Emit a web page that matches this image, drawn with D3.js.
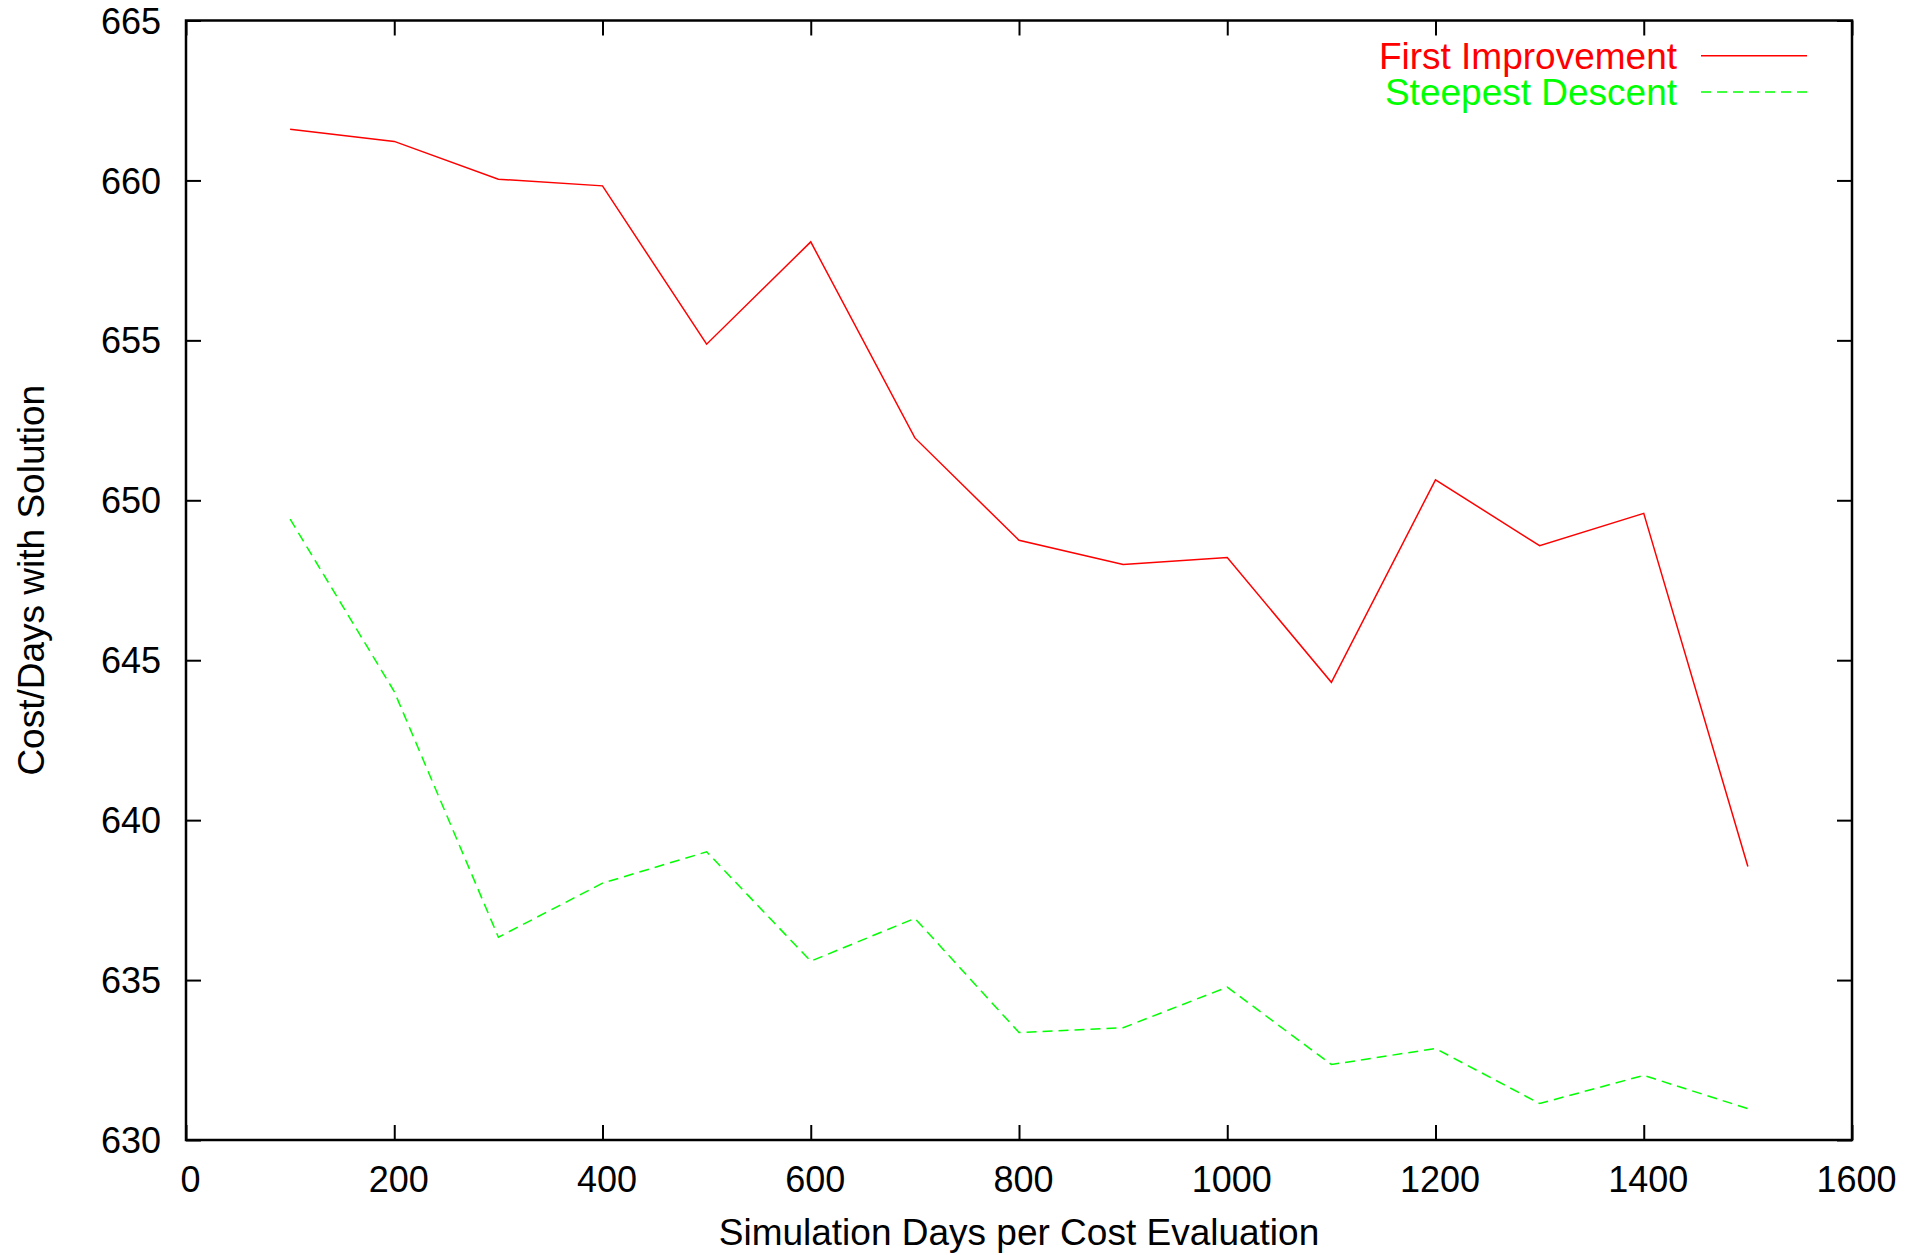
<!DOCTYPE html>
<html>
<head>
<meta charset="utf-8">
<script src="https://cdn.jsdelivr.net/npm/d3@7"></script>
<style>
  body { margin: 0; background: #fff; }
  text { font-family: "Liberation Sans", Arial, sans-serif; }
</style>
</head>
<body>
<div id="chart"></div>
<script>
// data
var days = [100, 200, 300, 400, 500, 600, 700, 800, 900, 1000, 1100, 1200, 1300, 1400, 1500];
var firstImprovement = [661.60, 661.22, 660.04, 659.83, 654.88, 658.08, 651.95, 648.75, 647.99, 648.21, 644.31, 650.64, 648.58, 649.59, 638.55];
var steepestDescent = [649.41, 644.02, 636.34, 638.03, 639.01, 635.59, 636.93, 633.36, 633.51, 634.78, 632.36, 632.86, 631.14, 632.02, 630.98];
var xTicks = [0, 200, 400, 600, 800, 1000, 1200, 1400, 1600];
var yTicks = [630, 635, 640, 645, 650, 655, 660, 665];

var svgWidth = 1925;
var svgHeight = 1255;

var margin = { top: 20.5, right: 73, bottom: 115, left: 186 };
var width = svgWidth - margin.left - margin.right;
var height = svgHeight - margin.top - margin.bottom;

var svg = d3.select("#chart")
  .append("svg")
  .attr("width", svgWidth)
  .attr("height", svgHeight);

var chartGroup = svg.append("g")
  .attr("transform", `translate(${margin.left}, ${margin.top})`);

// scales
var xScale = d3.scaleLinear().domain([0, 1600]).range([0, width]);
var yScale = d3.scaleLinear().domain([630, 665]).range([height, 0]);

var tickLen = 15;

// axes, ticks pointing inward (mirrored on top/right like gnuplot)
var bottomAxis = d3.axisBottom(xScale).tickValues(xTicks).tickFormat(d3.format("d"))
  .tickSizeInner(-tickLen).tickSizeOuter(0).tickPadding(26);
var topAxis = d3.axisTop(xScale).tickValues(xTicks).tickSizeInner(-tickLen).tickSizeOuter(0).tickFormat("");
var leftAxis = d3.axisLeft(yScale).tickValues(yTicks).tickFormat(d3.format("d"))
  .tickSizeInner(-tickLen).tickSizeOuter(0).tickPadding(25);
var rightAxis = d3.axisRight(yScale).tickValues(yTicks).tickSizeInner(-tickLen).tickSizeOuter(0).tickFormat("");

function styleAxis(g) {
  g.select(".domain").remove();
  g.selectAll(".tick line").attr("stroke", "#000").attr("stroke-width", 2);
  g.selectAll(".tick text").attr("fill", "#000").style("font-size", "36px");
}

chartGroup.append("g")
  .attr("transform", `translate(0, ${height})`)
  .call(bottomAxis)
  .call(styleAxis)
  .selectAll(".tick text").attr("dx", 4).attr("dy", "0.71em");

chartGroup.append("g").call(topAxis).call(styleAxis);

chartGroup.append("g")
  .call(leftAxis)
  .call(styleAxis)
  .selectAll(".tick text").attr("dy", "0.35em");

chartGroup.append("g")
  .attr("transform", `translate(${width}, 0)`)
  .call(rightAxis)
  .call(styleAxis);

// lines
var line = d3.line()
  .x(function (d, i) { return xScale(days[i]); })
  .y(function (d) { return yScale(d); });

chartGroup.append("path")
  .datum(firstImprovement)
  .attr("fill", "none")
  .attr("stroke", "#ff0000")
  .attr("stroke-width", 1.5)
  .attr("d", line);

chartGroup.append("path")
  .datum(steepestDescent)
  .attr("fill", "none")
  .attr("stroke", "#00ff00")
  .attr("stroke-width", 1.5)
  .attr("stroke-dasharray", "10,6")
  .attr("d", line);

// frame
chartGroup.append("rect")
  .attr("x", 0)
  .attr("y", 0)
  .attr("width", width)
  .attr("height", height)
  .attr("fill", "none")
  .attr("stroke", "#000")
  .attr("stroke-width", 2.5);

// legend
var legend = [
  { name: "First Improvement", color: "#ff0000", dash: null, y: 55.7 },
  { name: "Steepest Descent", color: "#00ff00", dash: "10,6", y: 92 }
];

legend.forEach(function (d) {
  svg.append("text")
    .attr("x", 1677)
    .attr("y", d.y)
    .attr("dy", "0.35em")
    .attr("text-anchor", "end")
    .attr("fill", d.color)
    .style("font-size", "37px")
    .text(d.name);
  svg.append("line")
    .attr("x1", 1701)
    .attr("x2", 1807)
    .attr("y1", d.y)
    .attr("y2", d.y)
    .attr("stroke", d.color)
    .attr("stroke-width", 1.5)
    .attr("stroke-dasharray", d.dash);
});

// axis titles
svg.append("text")
  .attr("x", margin.left + width / 2)
  .attr("y", 1245)
  .attr("text-anchor", "middle")
  .style("font-size", "37px")
  .text("Simulation Days per Cost Evaluation");

svg.append("text")
  .attr("transform", `translate(44, ${margin.top + height / 2}) rotate(-90)`)
  .attr("text-anchor", "middle")
  .style("font-size", "37px")
  .text("Cost/Days with Solution");
</script>
</body>
</html>
